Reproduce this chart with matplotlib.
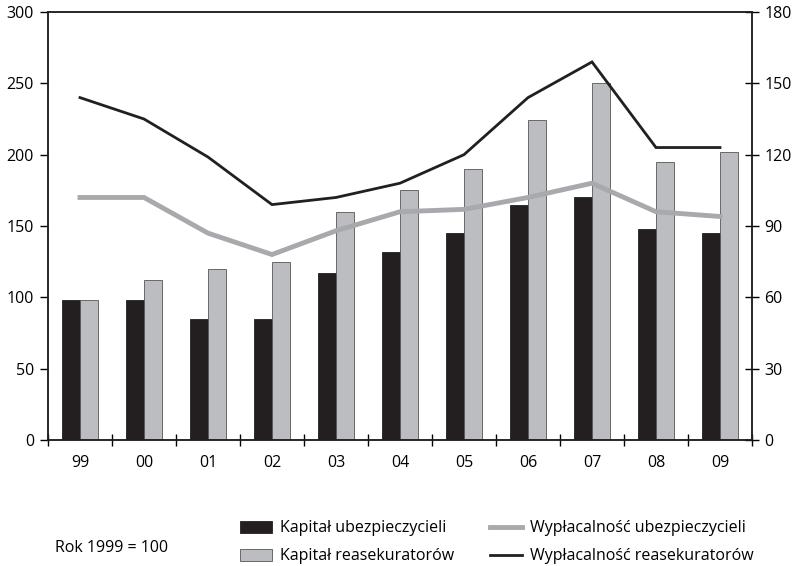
import matplotlib.pyplot as plt
import numpy as np

plt.rcParams['font.family'] = ['Open Sans', 'DejaVu Sans']

years = ['99', '00', '01', '02', '03', '04', '05', '06', '07', '08', '09']
kapital_ubezp = [98, 98, 85, 85, 117, 132, 145, 165, 170, 148, 145]
kapital_reas = [98, 112, 120, 125, 160, 175, 190, 224, 250, 195, 202]
wyplac_ubezp = [102, 102, 87, 78, 88, 96, 97, 102, 108, 96, 94]
wyplac_reas = [144, 135, 119, 99, 102, 108, 120, 144, 159, 123, 123]

black = '#231f20'
grey_bar = '#bcbdc0'
grey_line = '#a7a9ac'

fig = plt.figure(figsize=(7.98, 5.66), dpi=100)
ax = fig.add_axes([48 / 798, 1 - 440 / 566, 704 / 798, 428 / 566])
x = np.arange(len(years))
w = 0.28
b1 = ax.bar(x - w / 2, kapital_ubezp, w, color=black, edgecolor=black, linewidth=0.6)
b2 = ax.bar(x + w / 2, kapital_reas, w, color=grey_bar, edgecolor='#555555', linewidth=0.6)
ax.set_xlim(-0.5, len(years) - 0.5)
ax.set_ylim(0, 300)
ax.set_yticks(range(0, 301, 50))
ax.set_xticks(x)
ax.set_xticklabels(years)
ax.set_xticks(np.arange(-0.5, len(years)), minor=True)
ax.tick_params(axis='x', which='major', length=0, pad=11, labelsize=11.5)
ax.tick_params(axis='x', which='minor', direction='inout', length=8, width=1)
ax.tick_params(axis='y', direction='out', length=6, width=1, labelsize=11.5, pad=4)
for s in ax.spines.values():
    s.set_color(black)
    s.set_linewidth(1.1)

ax2 = ax.twinx()
l1, = ax2.plot(x, wyplac_ubezp, color=grey_line, linewidth=3.5, solid_joinstyle='miter')
l2, = ax2.plot(x, wyplac_reas, color=black, linewidth=2, solid_joinstyle='miter')
ax2.set_ylim(0, 180)
ax2.set_yticks(range(0, 181, 30))
ax2.tick_params(axis='y', direction='inout', length=10, width=1, labelsize=11.5, pad=4)
for s in ax2.spines.values():
    s.set_color(black)
    s.set_linewidth(1.1)

fig.text(55 / 798, 1 - 548 / 566, 'Rok 1999 = 100', fontsize=11.5, va='center', ha='left')
fig.legend([b1, b2, l1, l2],
           ['Kapitał ubezpieczycieli', 'Kapitał reasekuratorów',
            'Wypłacalność ubezpieczycieli', 'Wypłacalność reasekuratorów'],
           ncol=2, frameon=False, fontsize=11.5, loc='upper left',
           bbox_to_anchor=(226 / 798, 1 - 506 / 566),
           handlelength=2.0, handleheight=0.8, handletextpad=0.45,
           columnspacing=2.3, labelspacing=0.75)

fig.savefig('out.png', dpi=100)
